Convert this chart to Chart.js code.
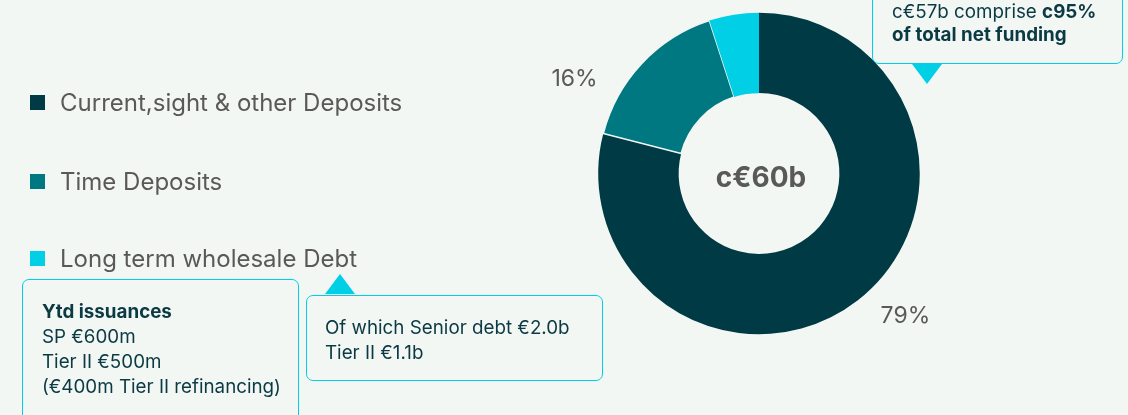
<!DOCTYPE html>
<html>
<head>
<meta charset="utf-8">
<script src="https://cdn.jsdelivr.net/npm/chart.js@4"></script>
<style>
  html, body { margin:0; padding:0; width:1128px; height:415px; overflow:hidden; background:#F3F7F4; font-family: Inter, "Noto Sans", sans-serif; }
  #wrap { position:relative; width:1128px; height:415px; }
  canvas { position:absolute; left:0; top:0; }
  .leg { position:absolute; left:30px; font-size:24px; color:#595959; display:flex; align-items:center; height:30px; white-space:nowrap; }
  .leg i { display:inline-block; width:15px; height:15px; margin-right:15px; }
  .box { position:absolute; border:1.3px solid #00CFE6; border-radius:7px; color:#0B3A44; font-size:18.8px; line-height:25px; box-sizing:border-box; white-space:nowrap; }
  .tri { position:absolute; width:0; height:0; }
</style>
</head>
<body>
<div id="wrap">
  <canvas id="c" width="1128" height="415"></canvas>
  <div id="legend"></div>
  <div class="box" style="left:872px; top:-20px; width:251px; height:84px; padding:19px 0 0 19px; line-height:23px;">c€57b comprise <b>c95%</b><br><b>of total net funding</b></div>
  <div class="tri" style="left:912px; top:64px; border-left:15px solid transparent; border-right:15px solid transparent; border-top:20px solid #00CFE6;"></div>
  <div class="box" style="left:22px; top:279px; width:277px; height:150px; padding:19px 0 0 19px;"><b>Ytd issuances</b><br>SP €600m<br>Tier II €500m<br>(€400m Tier II refinancing)</div>
  <div class="tri" style="left:325px; top:274px; border-left:15px solid transparent; border-right:15px solid transparent; border-bottom:20px solid #00CFE6;"></div>
  <div class="box" style="left:306px; top:295px; width:297px; height:86px; padding:19px 0 0 18px;">Of which Senior debt €2.0b<br>Tier II €1.1b</div>
</div>
<script>
const categories = ["Current,sight & other Deposits", "Time Deposits", "Long term wholesale Debt"];
const shares = [79, 16, 5];
const shareLabels = ["79%", "16%", "5%"];
const colors = ["#003A45", "#007882", "#00CFE6"];
const centerText = "c€60b";
const legendTops = [102, 181, 258];

// HTML legend built from the arrays
const legendEl = document.getElementById('legend');
categories.forEach((c, i) => {
  const d = document.createElement('div');
  d.className = 'leg';
  d.style.top = (legendTops[i] - 15) + 'px';
  d.innerHTML = '<i style="background:' + colors[i] + '"></i>' + c;
  legendEl.appendChild(d);
});

const labelPlugin = {
  id: 'labelPlugin',
  afterDraw(chart, args, opts) {
    const ctx = chart.ctx;
    const meta = chart.getDatasetMeta(0);
    ctx.save();
    ctx.textAlign = 'center';
    ctx.textBaseline = 'middle';
    ctx.fillStyle = '#595959';
    ctx.font = '23px Inter, "Noto Sans", sans-serif';
    meta.data.forEach((arc, i) => {
      const p = arc.getProps(['x','y','startAngle','endAngle','outerRadius'], true);
      const mid = (p.startAngle + p.endAngle) / 2 + opts.angleShift[i];
      const r = p.outerRadius * opts.radiusFactor[i];
      ctx.fillText(shareLabels[i], p.x + Math.cos(mid) * r, p.y + Math.sin(mid) * r);
    });
    const a0 = meta.data[0];
    ctx.font = 'bold 28px Inter, "Noto Sans", sans-serif';
    ctx.fillText(centerText, a0.x + 2, a0.y + 5);
    ctx.restore();
  }
};

new Chart(document.getElementById('c'), {
  type: 'doughnut',
  data: {
    labels: categories,
    datasets: [{
      data: shares,
      backgroundColor: colors,
      borderColor: '#F3F7F4',
      borderWidth: [0, 1.5, 0]
    }]
  },
  options: {
    responsive: false,
    animation: false,
    cutout: '50%',
    layout: { padding: { left: 597, right: 207, top: 12, bottom: 80 } },
    plugins: {
      legend: { display: false },
      tooltip: { enabled: false },
      labelPlugin: { angleShift: [-0.14, -0.28, -0.05], radiusFactor: [1.27, 1.29, 1.155] }
    }
  },
  plugins: [labelPlugin]
});
</script>
</body>
</html>
